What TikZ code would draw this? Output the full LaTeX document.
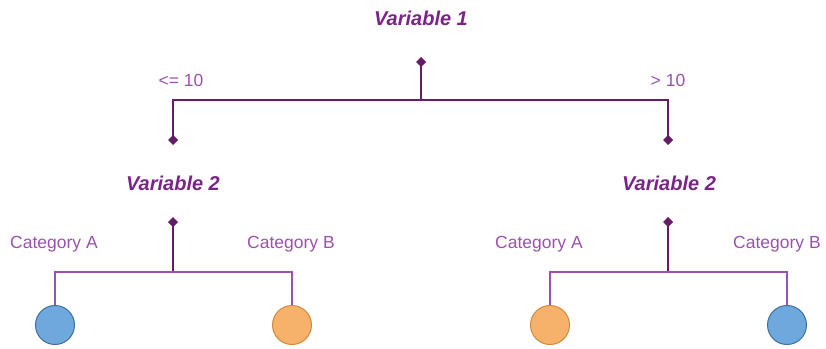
\documentclass[tikz,border=0pt]{standalone}
\usepackage{fontspec}
\setmainfont{Liberation Sans}
\definecolor{plum}{RGB}{122, 36, 135}
\definecolor{darkplum}{RGB}{100, 28, 104}
\definecolor{lilac}{RGB}{155, 81, 174}
\definecolor{leafblue}{RGB}{111, 168, 220}
\definecolor{leafblueline}{RGB}{61, 111, 160}
\definecolor{leaforange}{RGB}{246, 178, 107}
\definecolor{leaforangeline}{RGB}{208, 138, 60}
\usetikzlibrary{arrows.meta}
\usetikzlibrary{calc}
\usetikzlibrary{positioning}
\tikzset{
  varname/.style={font=\fontsize{20}{24}\selectfont\bfseries\itshape, text=plum, inner sep=0},
  edgelabel/.style={font=\fontsize{17.5}{21}\selectfont, text=lilac, inner sep=0},
  leaf/.style={circle, minimum size=39pt, inner sep=0, line width=1pt},
  blueleaf/.style={leaf, fill=leafblue, draw=leafblueline},
  orangeleaf/.style={leaf, fill=leaforange, draw=leaforangeline},
  toplink/.style={draw=darkplum, line width=2pt, {Diamond[length=10pt,width=10pt,fill=darkplum]}-{Diamond[length=10pt,width=10pt,fill=darkplum]}},
  sublink/.style={draw=lilac, line width=2pt},
  stem/.style={draw=darkplum, line width=2pt, {Diamond[length=10pt,width=10pt,fill=darkplum]}-}
}

\begin{document}
\begin{tikzpicture}[x=1pt, y=-1pt]
  \useasboundingbox (0,0) rectangle (826,348);

  % split nodes
  \node[varname] (var1) at (421,18) {Variable 1};
  \node[varname] (var2l) at (173,183) {Variable 2};
  \node[varname] (var2r) at (669,183) {Variable 2};

  % diamonds and bars
  \coordinate (top1) at (421,57);
  \coordinate (bar1) at (421,100);
  \coordinate (in2l) at (173,145);
  \coordinate (in2r) at (668,145);
  \coordinate (top2l) at (173,217);
  \coordinate (bar2l) at (173,272);
  \coordinate (top2r) at (668,217);
  \coordinate (bar2r) at (668,272);

  % leaves
  \node[blueleaf] (leafla) at (55,325) {};
  \node[orangeleaf] (leaflb) at (292,325) {};
  \node[orangeleaf] (leafra) at (550,325) {};
  \node[blueleaf] (leafrb) at (787,325) {};

  % first split
  \draw[stem] (top1) -- (bar1);
  \draw[toplink] (in2l) -- (in2l |- bar1) -- (in2r |- bar1) -- (in2r);
  \node[edgelabel] (lesseq) at (181,80) {<= 10};
  \node[edgelabel] (greater) at (668,80) {> 10};

  % second splits
  \draw[stem] (top2l) -- (bar2l);
  \draw[sublink] (leafla.north) -- (leafla |- bar2l) -- (leaflb |- bar2l) -- (leaflb.north);
  \draw[stem] (top2r) -- (bar2r);
  \draw[sublink] (leafra.north) -- (leafra |- bar2r) -- (leafrb |- bar2r) -- (leafrb.north);

  \node[edgelabel] (catla) at (54,244) {Category A};
  \node[edgelabel] (catlb) at (291,244) {Category B};
  \node[edgelabel] (catra) at (539,244) {Category A};
  \node[edgelabel] (catrb) at (777,244) {Category B};
\end{tikzpicture}
\end{document}
